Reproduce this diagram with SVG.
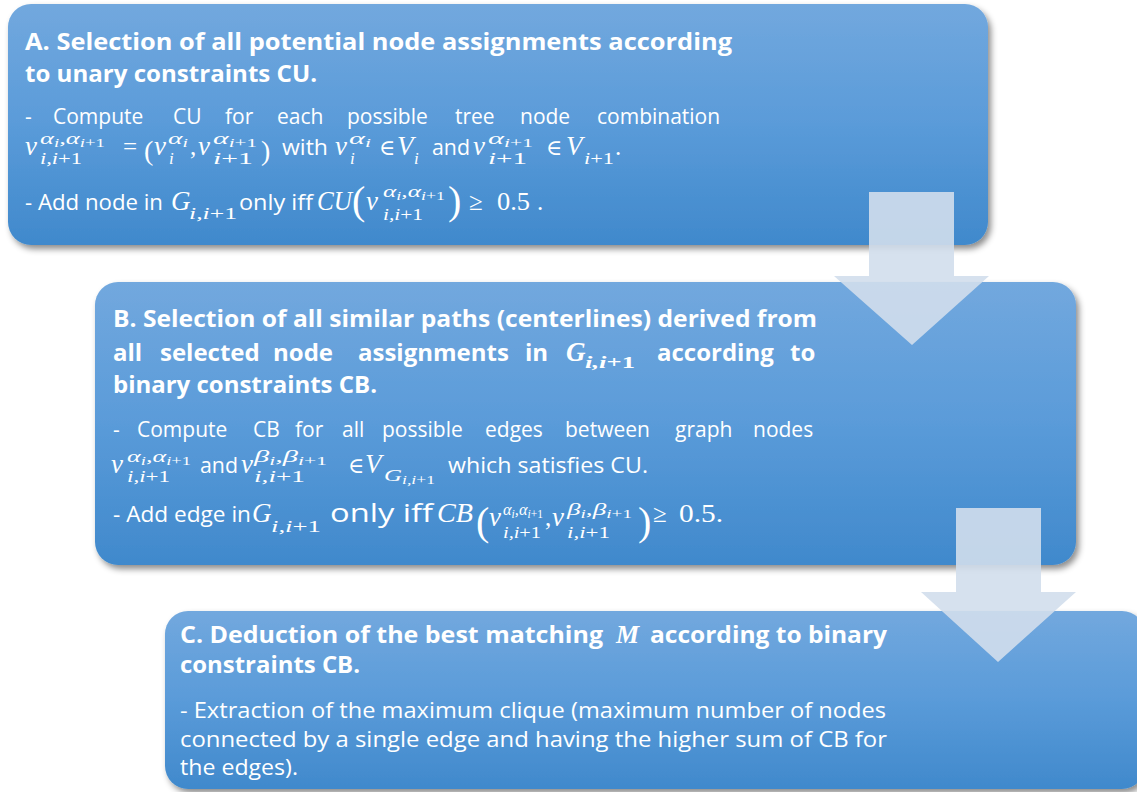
<svg xmlns="http://www.w3.org/2000/svg" width="1137" height="792" viewBox="0 0 1137 792">
<defs>
<linearGradient id="bg" x1="0" y1="0" x2="0" y2="1">
<stop offset="0" stop-color="#72a8de"/>
<stop offset="0.5" stop-color="#5a9bd9"/>
<stop offset="1" stop-color="#4089cc"/>
</linearGradient>
<filter id="sh" x="-5%" y="-10%" width="115%" height="125%">
<feDropShadow dx="3" dy="4" stdDeviation="3" flood-color="#000" flood-opacity="0.45"/>
</filter>
<style>
.box{fill:url(#bg);filter:url(#sh)}
.arr{fill:#d1deec;fill-opacity:0.9}
.lt{font-family:"Open Sans",Lato,"Liberation Sans",sans-serif;fill:#fff}
.hd{font-weight:700;font-size:24px}
.bd{font-size:21px}
.mi{font-family:"Liberation Serif","DejaVu Serif",serif;font-style:italic;fill:#fff;font-size:27px}
.mu{font-family:"Liberation Serif","DejaVu Serif",serif;font-style:normal;fill:#fff;font-size:25px}
.bo{font-weight:700}
.sc{font-size:17px}
.ss{font-size:12px}
.up{font-style:normal}
.bp{font-size:40px}
.mp{font-size:28px}
</style>
</defs>

<g id="nodeA">
<rect class="box" x="8" y="4" width="980" height="241" rx="23"/>
<text class="lt hd" x="25" y="50" textLength="707" lengthAdjust="spacingAndGlyphs">A. Selection of all potential node assignments according</text>
<text class="lt hd" x="25" y="82" textLength="292" lengthAdjust="spacingAndGlyphs">to unary constraints CU.</text>
<text class="lt bd" y="124"><tspan x="25">-</tspan><tspan x="53">Compute</tspan><tspan x="173">CU</tspan><tspan x="225">for</tspan><tspan x="277">each</tspan><tspan x="347">possible</tspan><tspan x="455">tree</tspan><tspan x="520">node</tspan><tspan x="597">combination</tspan></text>
<text class="mi" x="25" y="155">v</text>
<text class="mi sc" x="40" y="144" textLength="65" lengthAdjust="spacingAndGlyphs">α<tspan class="ss" dy="3">i</tspan><tspan dy="-3">,α</tspan><tspan class="ss" dy="3">i<tspan class="up">+1</tspan></tspan></text>
<text class="mi sc" x="40" y="164" textLength="42" lengthAdjust="spacingAndGlyphs">i,i<tspan class="up">+1</tspan></text>
<text class="mu" x="123" y="155">=</text>
<text class="mu mp" x="144" y="160">(</text>
<text class="mi" x="154" y="155">v</text>
<text class="mi sc" x="168" y="144" textLength="20" lengthAdjust="spacingAndGlyphs">α<tspan class="ss" dy="3">i</tspan></text>
<text class="mi sc" x="169" y="164">i</text>
<text class="mu" x="190" y="155">,</text>
<text class="mi" x="198" y="155">v</text>
<text class="mi sc" x="213" y="144" textLength="44" lengthAdjust="spacingAndGlyphs">α<tspan class="ss" dy="3">i<tspan class="up">+1</tspan></tspan></text>
<text class="mi sc" x="213" y="164" textLength="40" lengthAdjust="spacingAndGlyphs">i<tspan class="up">+1</tspan></text>
<text class="mu mp" x="261" y="160">)</text>
<text class="lt bd" x="282" y="155" textLength="46" lengthAdjust="spacingAndGlyphs">with</text>
<text class="mi" x="335" y="155">v</text>
<text class="mi sc" x="349" y="144" textLength="22" lengthAdjust="spacingAndGlyphs">α<tspan class="ss" dy="3">i</tspan></text>
<text class="mi sc" x="350" y="164">i</text>
<text class="mu" x="379" y="155" style="font-size:22px">∈</text>
<text class="mi" x="397" y="155">V</text>
<text class="mi sc" x="414" y="164">i</text>
<text class="lt bd" x="432" y="155" textLength="38" lengthAdjust="spacingAndGlyphs">and</text>
<text class="mi" x="473" y="155">v</text>
<text class="mi sc" x="488" y="144" textLength="45" lengthAdjust="spacingAndGlyphs">α<tspan class="ss" dy="3">i<tspan class="up">+1</tspan></tspan></text>
<text class="mi sc" x="488" y="164" textLength="39" lengthAdjust="spacingAndGlyphs">i<tspan class="up">+1</tspan></text>
<text class="mu" x="546" y="155" style="font-size:22px">∈</text>
<text class="mi" x="566" y="155">V</text>
<text class="mi sc" x="584" y="164" textLength="30" lengthAdjust="spacingAndGlyphs">i<tspan class="up">+1</tspan></text>
<text class="mu" x="615" y="155">.</text>
<text class="lt bd" x="25" y="210" textLength="138" lengthAdjust="spacingAndGlyphs">- Add node in</text>
<text class="mi" x="171" y="210">G</text>
<text class="mi sc" x="189" y="219" textLength="48" lengthAdjust="spacingAndGlyphs">i,i<tspan class="up">+1</tspan></text>
<text class="lt bd" x="239" y="210" textLength="74" lengthAdjust="spacingAndGlyphs">only iff</text>
<text class="mi" x="317" y="210" textLength="35" lengthAdjust="spacingAndGlyphs">CU</text>
<text class="mu bp" x="352" y="214">(</text>
<text class="mi" x="366" y="210">v</text>
<text class="mi sc" x="383" y="197" textLength="62" lengthAdjust="spacingAndGlyphs">α<tspan class="ss" dy="3">i</tspan><tspan dy="-3">,α</tspan><tspan class="ss" dy="3">i<tspan class="up">+1</tspan></tspan></text>
<text class="mi sc" x="383" y="220" textLength="40" lengthAdjust="spacingAndGlyphs">i,i<tspan class="up">+1</tspan></text>
<text class="mu bp" x="448" y="214">)</text>
<text class="mu" x="469" y="210">≥</text>
<text class="mu" x="497" y="210" textLength="33" lengthAdjust="spacingAndGlyphs">0.5</text>
<text class="mu" x="537" y="210">.</text>
</g>

<g id="nodeB">
<rect class="box" x="95" y="282" width="981" height="283" rx="23"/>
<text class="lt hd" x="113" y="327" textLength="704" lengthAdjust="spacingAndGlyphs">B. Selection of all similar paths (centerlines) derived from</text>
<text class="lt hd" y="361"><tspan x="113">all</tspan><tspan x="160">selected</tspan><tspan x="273">node</tspan><tspan x="358">assignments</tspan><tspan x="525">in</tspan><tspan x="657">according</tspan><tspan x="790">to</tspan></text>
<text class="mi bo" x="566" y="361">G</text>
<text class="mi bo sc" x="585" y="368" textLength="50" lengthAdjust="spacingAndGlyphs">i,i<tspan class="up">+1</tspan></text>
<text class="lt hd" x="113" y="393" textLength="264" lengthAdjust="spacingAndGlyphs">binary constraints CB.</text>
<text class="lt bd" y="437"><tspan x="113">-</tspan><tspan x="137">Compute</tspan><tspan x="253">CB</tspan><tspan x="295">for</tspan><tspan x="342">all</tspan><tspan x="382">possible</tspan><tspan x="485">edges</tspan><tspan x="565">between</tspan><tspan x="675">graph</tspan><tspan x="753">nodes</tspan></text>
<text class="mi" x="111" y="473">v</text>
<text class="mi sc" x="127" y="462" textLength="64" lengthAdjust="spacingAndGlyphs">α<tspan class="ss" dy="3">i</tspan><tspan dy="-3">,α</tspan><tspan class="ss" dy="3">i<tspan class="up">+1</tspan></tspan></text>
<text class="mi sc" x="127" y="482" textLength="43" lengthAdjust="spacingAndGlyphs">i,i<tspan class="up">+1</tspan></text>
<text class="lt bd" x="200" y="473" textLength="38" lengthAdjust="spacingAndGlyphs">and</text>
<text class="mi" x="241" y="473">v</text>
<text class="mi sc" x="254" y="462" textLength="73" lengthAdjust="spacingAndGlyphs">β<tspan class="ss" dy="3">i</tspan><tspan dy="-3">,β</tspan><tspan class="ss" dy="3">i<tspan class="up">+1</tspan></tspan></text>
<text class="mi sc" x="254" y="482" textLength="51" lengthAdjust="spacingAndGlyphs">i,i<tspan class="up">+1</tspan></text>
<text class="mu" x="348" y="473" style="font-size:22px">∈</text>
<text class="mi" x="365" y="473">V</text>
<text class="mi sc" x="384" y="481" textLength="51" lengthAdjust="spacingAndGlyphs">G<tspan class="ss" dy="3">i,i<tspan class="up">+1</tspan></tspan></text>
<text class="lt bd" x="448" y="473" textLength="200" lengthAdjust="spacingAndGlyphs">which satisfies CU.</text>
<text class="lt bd" x="113" y="522" textLength="138" lengthAdjust="spacingAndGlyphs">- Add edge in</text>
<text class="mi" x="252" y="522">G</text>
<text class="mi sc" x="271" y="532" textLength="50" lengthAdjust="spacingAndGlyphs">i,i<tspan class="up">+1</tspan></text>
<text class="lt" x="330" y="522" style="font-size:26px" textLength="103" lengthAdjust="spacingAndGlyphs">only iff</text>
<text class="mi" x="437" y="522" textLength="36" lengthAdjust="spacingAndGlyphs">CB</text>
<text class="mu bp" x="476" y="535">(</text>
<text class="mi" x="489" y="526">v</text>
<text class="mi sc" x="503" y="515" textLength="40" lengthAdjust="spacingAndGlyphs">α<tspan class="ss" dy="3">i</tspan><tspan dy="-3">,α</tspan><tspan class="ss" dy="3">i<tspan class="up">+1</tspan></tspan></text>
<text class="mi sc" x="503" y="538" textLength="38" lengthAdjust="spacingAndGlyphs">i,i<tspan class="up">+1</tspan></text>
<text class="mu" x="545" y="526">,</text>
<text class="mi" x="552" y="526">v</text>
<text class="mi sc" x="567" y="515" textLength="65" lengthAdjust="spacingAndGlyphs">β<tspan class="ss" dy="3">i</tspan><tspan dy="-3">,β</tspan><tspan class="ss" dy="3">i<tspan class="up">+1</tspan></tspan></text>
<text class="mi sc" x="567" y="538" textLength="43" lengthAdjust="spacingAndGlyphs">i,i<tspan class="up">+1</tspan></text>
<text class="mu bp" x="638" y="535">)</text>
<text class="mu" x="653" y="522">≥</text>
<text class="mu" x="679" y="522" textLength="44" lengthAdjust="spacingAndGlyphs">0.5.</text>
</g>

<g id="nodeC">
<rect class="box" x="165" y="611" width="980" height="178" rx="23"/>
<text class="lt hd" x="180" y="643" textLength="423" lengthAdjust="spacingAndGlyphs">C. Deduction of the best matching</text>
<text class="mi bo" x="616" y="643" style="font-size:26px">M</text>
<text class="lt hd" x="650" y="643" textLength="237" lengthAdjust="spacingAndGlyphs">according to binary</text>
<text class="lt hd" x="180" y="673" textLength="180" lengthAdjust="spacingAndGlyphs">constraints CB.</text>
<text class="lt bd" x="180" y="718" textLength="706" lengthAdjust="spacingAndGlyphs">- Extraction of the maximum clique (maximum number of nodes</text>
<text class="lt bd" x="180" y="747" textLength="707" lengthAdjust="spacingAndGlyphs">connected by a single edge and having the higher sum of CB for</text>
<text class="lt bd" x="180" y="775" textLength="118" lengthAdjust="spacingAndGlyphs">the edges).</text>
</g>

<g id="connectors">
<polygon class="arr" points="869,192 954,192 954,276 989,276 912,345 834,276 869,276"/>
<polygon class="arr" points="956,508 1041,508 1041,592 1076,592 998,662 921,592 956,592"/>
</g>
</svg>
